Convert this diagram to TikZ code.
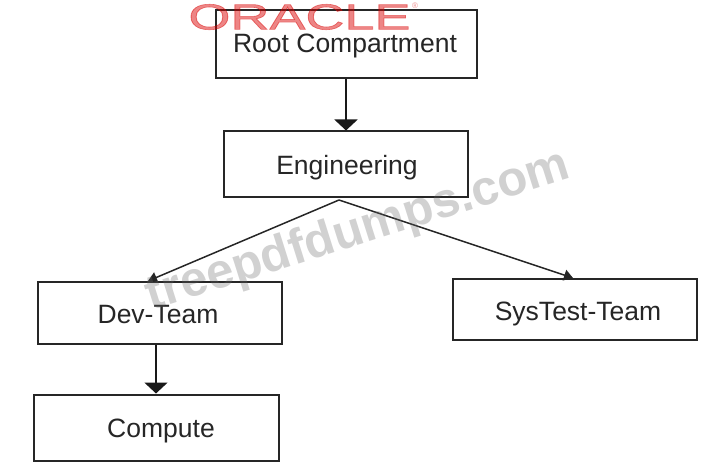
\documentclass[tikz,border=0pt]{standalone}
\usepackage{fontspec}
\setmainfont{Liberation Sans}
\newfontfamily\brandfont[FakeBold=1.6]{Liberation Sans}
\usetikzlibrary{arrows.meta,calc}
\newcommand{\boxlabel}[2]{\raisebox{#1}[0pt][0pt]{#2}}
\tikzset{
  x=1pt,y=-1pt,
  boxnode/.style={draw=black!85,line width=2pt,minimum width=#1,inner sep=0pt,anchor=center,text=black!85,font=\fontsize{26.5}{30}\selectfont},
  boxnode/.default=244pt,
  vert/.style={draw=black!90,line width=2pt,-{Triangle[length=11pt,width=23pt]}},
  diag/.style={draw=black!85,line width=1.5pt,-{Triangle[length=9pt,width=11pt]}},
  mark wm/.style={text=black!60,opacity=.3,font=\bfseries\fontsize{49}{54}\selectfont,rotate=17.5},
  brand/.style={text=red!85!black,opacity=.48,font=\brandfont\fontsize{36}{40}\selectfont,inner sep=0pt}
}
\begin{document}
\begin{tikzpicture}
\useasboundingbox (0,0) rectangle (717,465);
\node[boxnode=261pt,minimum height=68pt] (root) at (346,44.5) {\boxlabel{-7.7pt}{\kern-2pt Root Compartment}};
\node[boxnode,minimum height=66pt] (eng) at (346,164.5) {\boxlabel{-9.7pt}{\kern2pt Engineering}};
\node[boxnode,minimum height=62pt] (dev) at (160,312.5) {\boxlabel{-10.5pt}{Dev-Team\kern4pt}};
\node[boxnode,minimum height=61pt] (sys) at (575,309) {\boxlabel{-11.7pt}{\kern6pt SysTest-Team}};
\node[boxnode=245pt,minimum height=66pt] (cmp) at (156.5,427.5) {\boxlabel{-9.7pt}{\kern9pt Compute}};
\coordinate (fork) at (339,200);
\coordinate (devin) at (148,281);
\coordinate (sysin) at (573,278);
\draw[vert] (root.south) -- (eng.north);
\draw[vert] (dev.south -| 156,0) -- (cmp.north -| 156,0);
\draw[diag] (fork) -- (devin);
\draw[diag] (fork) -- (sysin);
\node[brand,xscale=1.5] (oracle) at (299.5,17) {ORACLE};
\node[text=red!85!black,opacity=.45,font=\fontsize{8}{9}\selectfont,inner sep=0pt] (reg) at (415,6) {®};
\node[mark wm] (wm) at (358,232) {treepdfdumps.com};
\end{tikzpicture}
\end{document}
